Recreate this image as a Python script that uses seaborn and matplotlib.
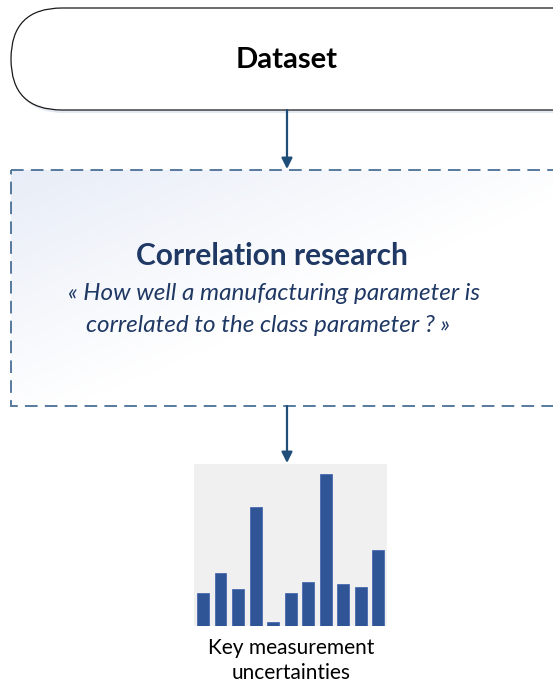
import numpy as np
import pandas as pd
import matplotlib
matplotlib.use("Agg")
import matplotlib.pyplot as plt
from matplotlib.patches import FancyBboxPatch, Rectangle
import seaborn as sns

# Data for the small bar chart (key measurement uncertainties)
bar_labels = ["p1", "p2", "p3", "p4", "p5", "p6", "p7", "p8", "p9", "p10", "p11"]
bar_values = [33, 53, 37, 119, 4, 33, 44, 152, 42, 39, 76]

title_top = "Dataset"
title_mid = "Correlation research"
question_lines = ["« How well a manufacturing parameter is",
                  "correlated to the class parameter ? »"]
caption_lines = ["Key measurement", "uncertainties"]

W, H = 553, 687
ARROW = "#1f4e79"
DASH = "#4a6f96"
NAVY = "#1f3864"
BAR = "#2f5597"

sns.set_theme(style="white")
plt.rcParams['font.family'] = ['Lato', 'DejaVu Sans']

fig = plt.figure(figsize=(W / 100, H / 100), dpi=100)
ax = fig.add_axes([0, 0, 1, 1])
ax.set_xlim(0, W)
ax.set_ylim(H, 0)
ax.axis("off")

# top rounded box with a faint shadow
shadow = FancyBboxPatch((13, 11), 620, 102, boxstyle="round,pad=0,rounding_size=51",
                        fc="#e3e9f2", ec="none", zorder=1)
ax.add_patch(shadow)
top_box = FancyBboxPatch((11, 8), 620, 102, boxstyle="round,pad=0,rounding_size=51",
                         fc="white", ec="#1a1a1a", lw=0.9, zorder=2)
ax.add_patch(top_box)
ax.text(287, 60, title_top, ha="center", va="center", fontsize=21,
        fontweight="bold", color="black", zorder=3)

# arrows
ax.annotate("", xy=(287, 169), xytext=(287, 110),
            arrowprops=dict(arrowstyle="-|>", color=ARROW, lw=1.6,
                            mutation_scale=16, shrinkA=0, shrinkB=0), zorder=4)
ax.annotate("", xy=(287, 463), xytext=(287, 406),
            arrowprops=dict(arrowstyle="-|>", color=ARROW, lw=1.6,
                            mutation_scale=16, shrinkA=0, shrinkB=0), zorder=4)

# dashed box with a soft gradient
gx, gy = np.meshgrid(np.linspace(0, 1, 200), np.linspace(0, 1, 120))
grad = np.clip(1 - (gx * 0.9 + gy * 0.9), 0, 1)
cmap = matplotlib.colors.LinearSegmentedColormap.from_list("g", ["#ffffff", "#e8edf7"])
ax.imshow(grad, extent=(11, 560, 406, 170), cmap=cmap, aspect="auto", zorder=1)
dbox = Rectangle((11, 170), 560, 236, fc="none", ec=DASH, lw=1.3,
                 ls=(0, (7, 4)), zorder=3)
ax.add_patch(dbox)
ax.text(272, 256, title_mid, ha="center", va="center", fontsize=21.5,
        fontweight="bold", color=NAVY, zorder=3)
ax.text(274, 293, question_lines[0], ha="center", va="center", fontsize=17.5,
        style="italic", color=NAVY, zorder=3)
ax.text(268, 326, question_lines[1], ha="center", va="center", fontsize=17.5,
        style="italic", color=NAVY, zorder=3)

# caption
ax.text(291, 648, caption_lines[0], ha="center", va="center", fontsize=15, color="black")
ax.text(291, 673, caption_lines[1], ha="center", va="center", fontsize=15, color="black")

# bar chart inset
px0, py0, pw, ph = 194, 464, 193, 162
bax = fig.add_axes([px0 / W, (H - py0 - ph) / H, pw / W, ph / H])
df = pd.DataFrame({"param": bar_labels, "value": bar_values})
sns.barplot(data=df, x="param", y="value", color=BAR, width=0.67,
            saturation=1, ax=bax, edgecolor="#4a6ab0", linewidth=0.6)
bax.set_facecolor("#f0f0f0")
bax.set_xlim(-0.52, 10.5)
bax.set_ylim(0, 162)
bax.set_xlabel("")
bax.set_ylabel("")
bax.set_xticks([])
bax.set_yticks([])
for s in bax.spines.values():
    s.set_visible(False)

fig.savefig("out.png", dpi=100)
